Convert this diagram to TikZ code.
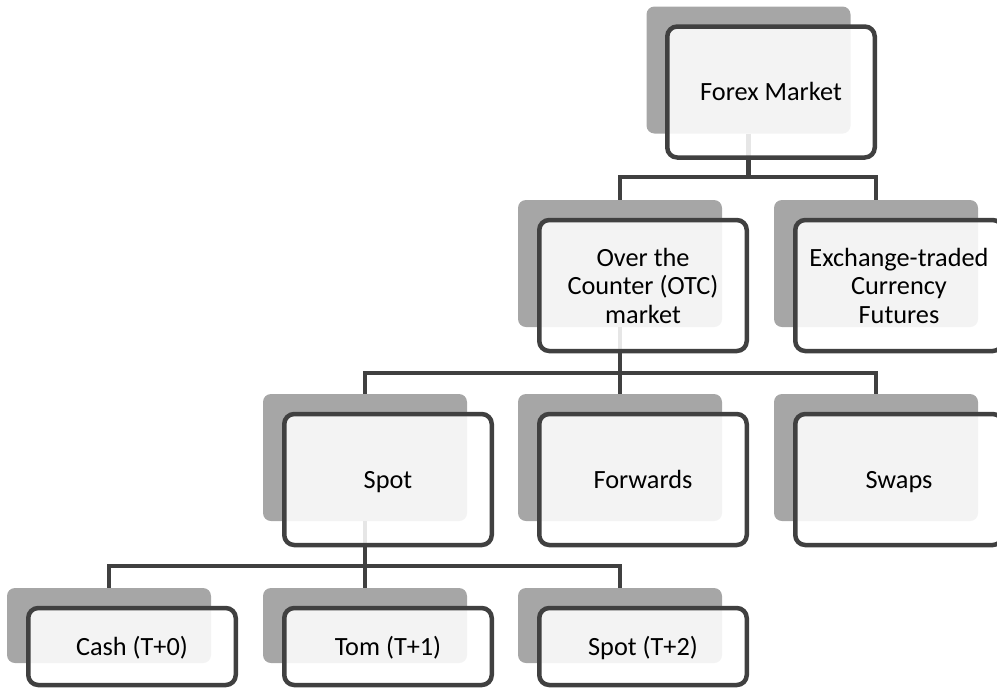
\documentclass[tikz,border=0pt]{standalone}
\usepackage{fontspec}
\setmainfont{Carlito}
\definecolor{shade}{HTML}{A6A6A6}
\definecolor{ink}{HTML}{404040}
\begin{document}
\begin{tikzpicture}[x=1pt,y=-1pt,
  backbox/.style={fill=shade, rounded corners=8pt, minimum width=204pt, minimum height=127pt, inner sep=0pt},
  frontbox/.style={draw=ink, line width=4.5pt, fill=white, fill opacity=0.87, text opacity=1, rounded corners=10pt, minimum width=207.5pt, minimum height=131pt, inner sep=0pt, align=center, font=\fontsize{26.3}{28.5}\selectfont, text=black},
  oneline/.style={frontbox, text height=20pt, text depth=3pt},
  lowback/.style={backbox, minimum height=75pt},
  lowfront/.style={oneline, minimum height=77pt},
  conn/.style={draw=ink, line width=4.5pt}]
\useasboundingbox (0,0) rectangle (997,689);
\clip (0,0) rectangle (997,689);
% shadow boxes
\node[backbox] (g1) at (748.5,70) {};
\node[backbox] (g2a) at (620,263.5) {};
\node[backbox] (g2b) at (876,263.5) {};
\node[backbox] (g3a) at (365,457.5) {};
\node[backbox] (g3b) at (620,457.5) {};
\node[backbox] (g3c) at (876,457.5) {};
\node[lowback] (g4a) at (109,625.5) {};
\node[lowback] (g4b) at (365,625.5) {};
\node[lowback] (g4c) at (620,625.5) {};
% connectors
\coordinate (b1) at (748.5,177);
\draw[conn] (g1.south) -- (b1);
\draw[conn] (g2a.north) |- (b1) -| (g2b.north);
\coordinate (b2) at (620,373);
\draw[conn] (g2a.south) -- (g3b.north);
\draw[conn] (g3a.north) |- (b2) -| (g3c.north);
\coordinate (b3) at (365,566);
\draw[conn] (g3a.south) -- (g4b.north);
\draw[conn] (g4a.north) |- (b3) -| (g4c.north);
% front boxes
\node[oneline] (f1) at (771,92) {Forex Market};
\node[frontbox] (f2a) at (643,285.5) {Over the\\Counter (OTC)\\market};
\node[frontbox] (f2b) at (899,285.5) {Exchange-traded\\Currency\\Futures};
\node[oneline] (f3a) at (388,479.5) {Spot};
\node[oneline] (f3b) at (643,479.5) {Forwards};
\node[oneline] (f3c) at (899,479.5) {Swaps};
\node[lowfront] (f4a) at (132,646.5) {Cash (T+0)};
\node[lowfront] (f4b) at (388,646.5) {Tom (T+1)};
\node[lowfront] (f4c) at (643,646.5) {Spot (T+2)};
\end{tikzpicture}
\end{document}
